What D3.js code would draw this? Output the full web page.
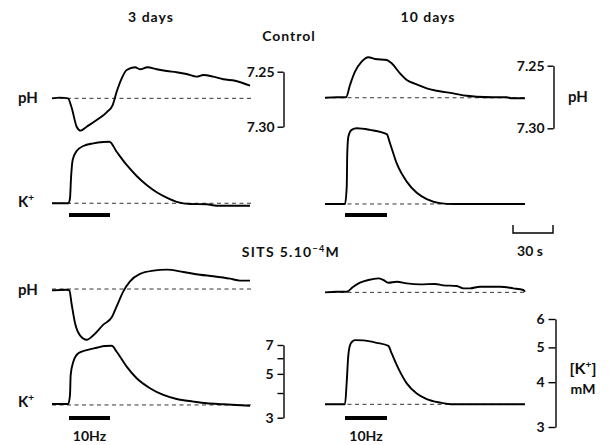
<!DOCTYPE html>
<html><head><meta charset="utf-8">
<script src="https://cdn.jsdelivr.net/npm/d3@7"></script>
<style>
body{margin:0;background:#fff}
svg text{font-family:Lato,"Open Sans",sans-serif;font-weight:700;fill:#111}
</style></head><body>
<svg id="c" width="610" height="445"></svg>
<script>
// ---- Data (time in s, pH units, [K+] in mM) ----
const panels = ["Control 3 days", "Control 10 days", "SITS 3 days", "SITS 10 days"];
const colTitles = ["3 days", "10 days"];

const ctl3PhTime = [0, 6, 12, 14.8, 18.5, 21.5, 26, 33.5, 41, 45.5, 48.5, 52.3, 56, 62.3, 66, 71.5, 78.5, 86, 93.5, 101, 108.5, 113.5, 121, 128.5, 137.3, 148.5];
const ctl3PhValue = [7.2742, 7.2736, 7.2742, 7.2830, 7.3000, 7.3036, 7.3000, 7.2939, 7.2869, 7.2803, 7.2682, 7.2560, 7.2485, 7.2460, 7.2478, 7.2460, 7.2478, 7.2494, 7.2505, 7.2521, 7.2545, 7.2530, 7.2545, 7.2569, 7.2582, 7.2627];

const ctl3KTime = [0, 12.2, 13.5, 14.25, 15.5, 18.5, 23.5, 31, 38.5, 43, 48.5, 56, 63.5, 71, 78.5, 86, 93.5, 103.5, 116, 123.5, 148.5];
const ctl3KValue = [3.50, 3.50, 3.71, 4.68, 5.80, 6.44, 6.82, 7.04, 7.15, 7.17, 6.38, 5.47, 4.81, 4.33, 3.98, 3.74, 3.56, 3.47, 3.46, 3.40, 3.40];

const ctl10PhTime = [0, 8.8, 15.75, 18.75, 22.5, 27.5, 32.5, 37.5, 46.3, 50, 56.25, 61.3, 68.8, 76.3, 83.8, 96.2, 106.3, 113.8, 126.2, 136.3, 140, 150];
const ctl10PhValue = [7.2756, 7.2752, 7.2752, 7.2654, 7.2548, 7.2468, 7.2433, 7.2446, 7.2454, 7.2481, 7.2561, 7.2614, 7.2649, 7.2681, 7.2700, 7.2721, 7.2740, 7.2748, 7.2752, 7.2752, 7.2760, 7.2760];

const ctl10KTime = [0, 15, 16.3, 16.7, 17.5, 20, 23.8, 33.75, 46.3, 48.75, 53.8, 61.3, 68.8, 76.3, 86.25, 96.2, 150];
const ctl10KValue = [3.50, 3.50, 3.91, 4.85, 5.39, 5.63, 5.69, 5.63, 5.48, 5.17, 4.54, 4.04, 3.76, 3.61, 3.52, 3.50, 3.50];

const sits3PhTime = [0, 11, 13, 14.8, 17.25, 21, 26, 31, 38.5, 44.8, 48.5, 53.5, 58.5, 66, 76, 86, 98.5, 111, 121, 133.5, 141, 148.5];
const sits3PhValue = [7.2754, 7.2748, 7.2754, 7.2885, 7.3051, 7.3163, 7.3203, 7.3163, 7.3066, 7.2999, 7.2899, 7.2763, 7.2672, 7.2605, 7.2575, 7.2566, 7.2587, 7.2612, 7.2626, 7.2648, 7.2666, 7.2666];

const sits3KTime = [0, 12.2, 13.5, 14, 16, 19.75, 26, 33.5, 39.75, 44.8, 48.5, 56, 63.5, 73.5, 83.5, 93.5, 106, 116, 128.5, 148.5];
const sits3KValue = [3.52, 3.52, 3.91, 4.93, 5.76, 6.35, 6.60, 6.78, 6.92, 6.94, 6.47, 5.44, 4.75, 4.23, 3.91, 3.73, 3.62, 3.55, 3.51, 3.45];

const sits10PhTime = [0, 8.8, 16.3, 21.2, 26.25, 32.5, 40, 43.75, 47.5, 53.8, 61.3, 71.25, 82.5, 88.75, 98.8, 103.75, 108.75, 116.25, 131.25, 141.2, 148.7, 150];
const sits10PhValue = [7.2756, 7.2751, 7.2751, 7.2711, 7.2679, 7.2657, 7.2644, 7.2657, 7.2679, 7.2671, 7.2684, 7.2692, 7.2689, 7.2700, 7.2705, 7.2724, 7.2724, 7.2711, 7.2711, 7.2724, 7.2737, 7.2751];

const sits10KTime = [0, 15, 16.3, 17.5, 19.3, 22.5, 28.7, 38.8, 47.5, 50, 55, 61.3, 68.8, 76.3, 86.25, 96.2, 150];
const sits10KValue = [3.47, 3.47, 4.01, 4.76, 5.13, 5.24, 5.23, 5.15, 5.05, 4.81, 4.37, 3.97, 3.72, 3.59, 3.51, 3.47, 3.47];

const restPH = [7.2742, 7.2756, 7.2742, 7.2756];
const restK = [3.50, 3.50, 3.48, 3.47];

const stimStart = [12.75, 15];   // s, per column
const stimEnd = [43.5, 46.5];
const stimLabel = "10Hz";

const phTicks = [7.25, 7.30];
const kTicksLeft = [3, 4, 5, 6, 7];
const kLabelsLeft = [3, 5, 7];
const kTicksRight = [3, 4, 5, 6];
const timeBarSeconds = 30;

// ---- Layout ----
const svg = d3.select("#c");
const secPx = 4 / 3;
const colX = [52, 325];
const xs = colX.map(x0 => d3.scaleLinear().domain([0, 150]).range([x0, x0 + 150 * secPx]));

const yPH = [[71.7, 126.7], [65.7, 128.3], [262.4, 317.4], [260.3, 322.9]]
  .map(r => d3.scaleLinear().domain([7.25, 7.30]).range(r));
const yK = [
  d3.scaleLog().domain([3, 7]).range([216.5, 143.8]),
  d3.scaleLog().domain([3, 6]).range([228, 120]),
  d3.scaleLog().domain([3, 7]).range([417.7, 345.0]),
  d3.scaleLog().domain([3, 6]).range([427, 319])
];

const traces = [
  [ctl3PhTime, ctl3PhValue, ctl3KTime, ctl3KValue],
  [ctl10PhTime, ctl10PhValue, ctl10KTime, ctl10KValue],
  [sits3PhTime, sits3PhValue, sits3KTime, sits3KValue],
  [sits10PhTime, sits10PhValue, sits10KTime, sits10KValue]
];

function dashed(x, y, v) {
  svg.append("line").attr("x1", x(0)).attr("x2", x(150))
    .attr("y1", y(v)).attr("y2", y(v))
    .attr("stroke", "#333").attr("stroke-width", 1).attr("stroke-dasharray", "4,3.5");
}
function trace(ts, vs, x, y) {
  svg.append("path").datum(d3.zip(ts, vs))
    .attr("d", d3.line().x(d => x(d[0])).y(d => y(d[1])).curve(d3.curveMonotoneX))
    .attr("fill", "none").attr("stroke", "#000").attr("stroke-width", 1.9)
    .attr("stroke-linejoin", "round");
}

const stimY = [215, 418];
panels.forEach((p, i) => {
  const col = i % 2, row = Math.floor(i / 2);
  const x = xs[col];
  const [pt, pv, kt, kv] = traces[i];
  dashed(x, yPH[i], restPH[i]);
  dashed(x, yK[i], restK[i]);
  trace(pt, pv, x, yPH[i]);
  trace(kt, kv, x, yK[i]);
  svg.append("line").attr("x1", x(stimStart[col])).attr("x2", x(stimEnd[col]))
    .attr("y1", stimY[row]).attr("y2", stimY[row])
    .attr("stroke", "#000").attr("stroke-width", 4);
});

function text(x, y, s, size, anchor) {
  return svg.append("text").attr("x", x).attr("y", y).attr("font-size", size)
    .attr("text-anchor", anchor || "start").text(s);
}
function kLabel(x, y) {
  const t = svg.append("text").attr("x", x).attr("y", y).attr("font-size", 15);
  t.append("tspan").text("K");
  t.append("tspan").attr("dy", -6).attr("font-size", 10).text("+");
}

// titles
text(151, 22, colTitles[0], 14, "middle").attr("letter-spacing", 1);
text(428, 22, colTitles[1], 14, "middle").attr("letter-spacing", 1);
text(289, 41, "Control", 14, "middle").attr("letter-spacing", 1);
const sits = svg.append("text").attr("x", 291).attr("y", 257).attr("font-size", 14)
  .attr("text-anchor", "middle").attr("letter-spacing", 1.3);
sits.append("tspan").text("SITS 5.10");
sits.append("tspan").attr("dy", -5).attr("font-size", 9).text("−4");
sits.append("tspan").attr("dy", 5).text("M");

// row labels
text(18, 103, "pH", 15);
text(18, 295, "pH", 15);
kLabel(18, 207);
kLabel(18, 407);

// stimulus labels
text(xs[0]((stimStart[0] + stimEnd[0]) / 2), 441, stimLabel, 14, "middle");
text(xs[1]((stimStart[1] + stimEnd[1]) / 2), 441, stimLabel, 14, "middle");

// axes
function styleAxis(g) {
  g.attr("font-family", null).attr("font-size", null);
  g.selectAll("path.domain").attr("stroke", "#000").attr("stroke-width", 1.4);
  g.selectAll(".tick line").attr("stroke", "#000").attr("stroke-width", 1.4);
  g.selectAll(".tick text").attr("font-size", 14).attr("fill", "#111");
}
svg.append("g").attr("transform", "translate(283.5,0)")
  .call(d3.axisLeft(yPH[0]).tickValues(phTicks).tickFormat(d3.format(".2f")).tickSize(6).tickSizeOuter(0).tickPadding(3))
  .call(styleAxis);
svg.append("g").attr("transform", "translate(553.5,0)")
  .call(d3.axisLeft(yPH[1]).tickValues(phTicks).tickFormat(d3.format(".2f")).tickSize(6).tickSizeOuter(0).tickPadding(3))
  .call(styleAxis);
text(568, 102, "pH", 15);

svg.append("g").attr("transform", "translate(283.5,0)")
  .call(d3.axisLeft(yK[2]).tickValues(kTicksLeft).tickFormat(d => kLabelsLeft.includes(d) ? d : "").tickSize(6).tickSizeOuter(0).tickPadding(4))
  .call(styleAxis);
svg.append("g").attr("transform", "translate(555.5,0)")
  .call(d3.axisLeft(yK[3]).tickValues(kTicksRight).tickFormat(d3.format("d")).tickSize(7).tickSizeOuter(0).tickPadding(4))
  .call(styleAxis);

const kk = svg.append("text").attr("x", 583).attr("y", 374).attr("font-size", 16).attr("text-anchor", "middle");
kk.append("tspan").text("[K");
kk.append("tspan").attr("dy", -6).attr("font-size", 10).text("+");
kk.append("tspan").attr("dy", 6).text("]");
text(583, 394, "mM", 14, "middle");

// time scale bar
const tb0 = 141;
const xb0 = xs[1](tb0), xb1 = xs[1](tb0 + timeBarSeconds);
svg.append("path").attr("d", `M${xb0},225V233H${xb1}V225`)
  .attr("fill", "none").attr("stroke", "#000").attr("stroke-width", 1.4);
text((xb0 + xb1) / 2 - 3, 256, timeBarSeconds + " s", 14, "middle");
</script>
</body></html>
